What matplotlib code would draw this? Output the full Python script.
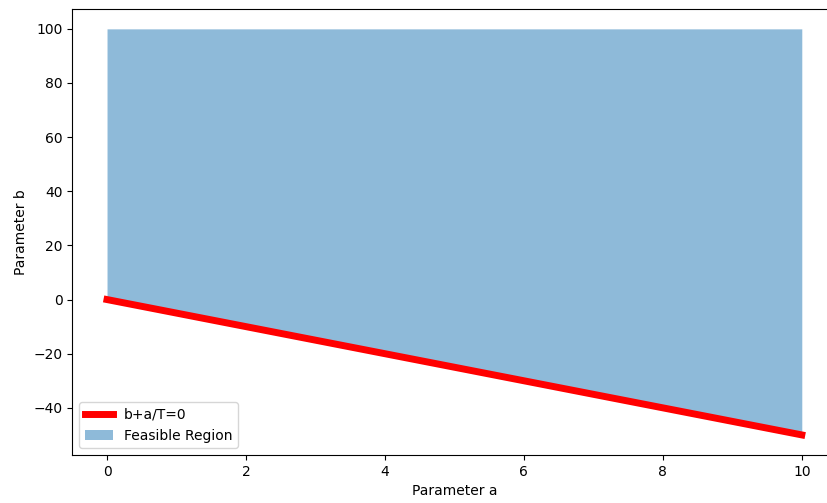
import numpy as np
import matplotlib
matplotlib.use("Agg")
import matplotlib.pyplot as plt

T = 0.2
a_vals = [0, 10]
b_line = [-a / T for a in a_vals]
b_upper = [100, 100]

fig = plt.figure(figsize=(8.28, 5.03), dpi=100)
ax = fig.add_axes([0.0873, 0.095, 0.923, 0.888])
ax.plot(a_vals, b_line, color='red', linewidth=5, label='b+a/T=0')
ax.fill_between(a_vals, b_line, b_upper, color='C0', alpha=0.5, linewidth=0, label='Feasible Region')
ax.set_xlabel('Parameter a')
ax.set_ylabel('Parameter b')
ax.legend(loc='lower left')
fig.savefig('out.png', dpi=100)
